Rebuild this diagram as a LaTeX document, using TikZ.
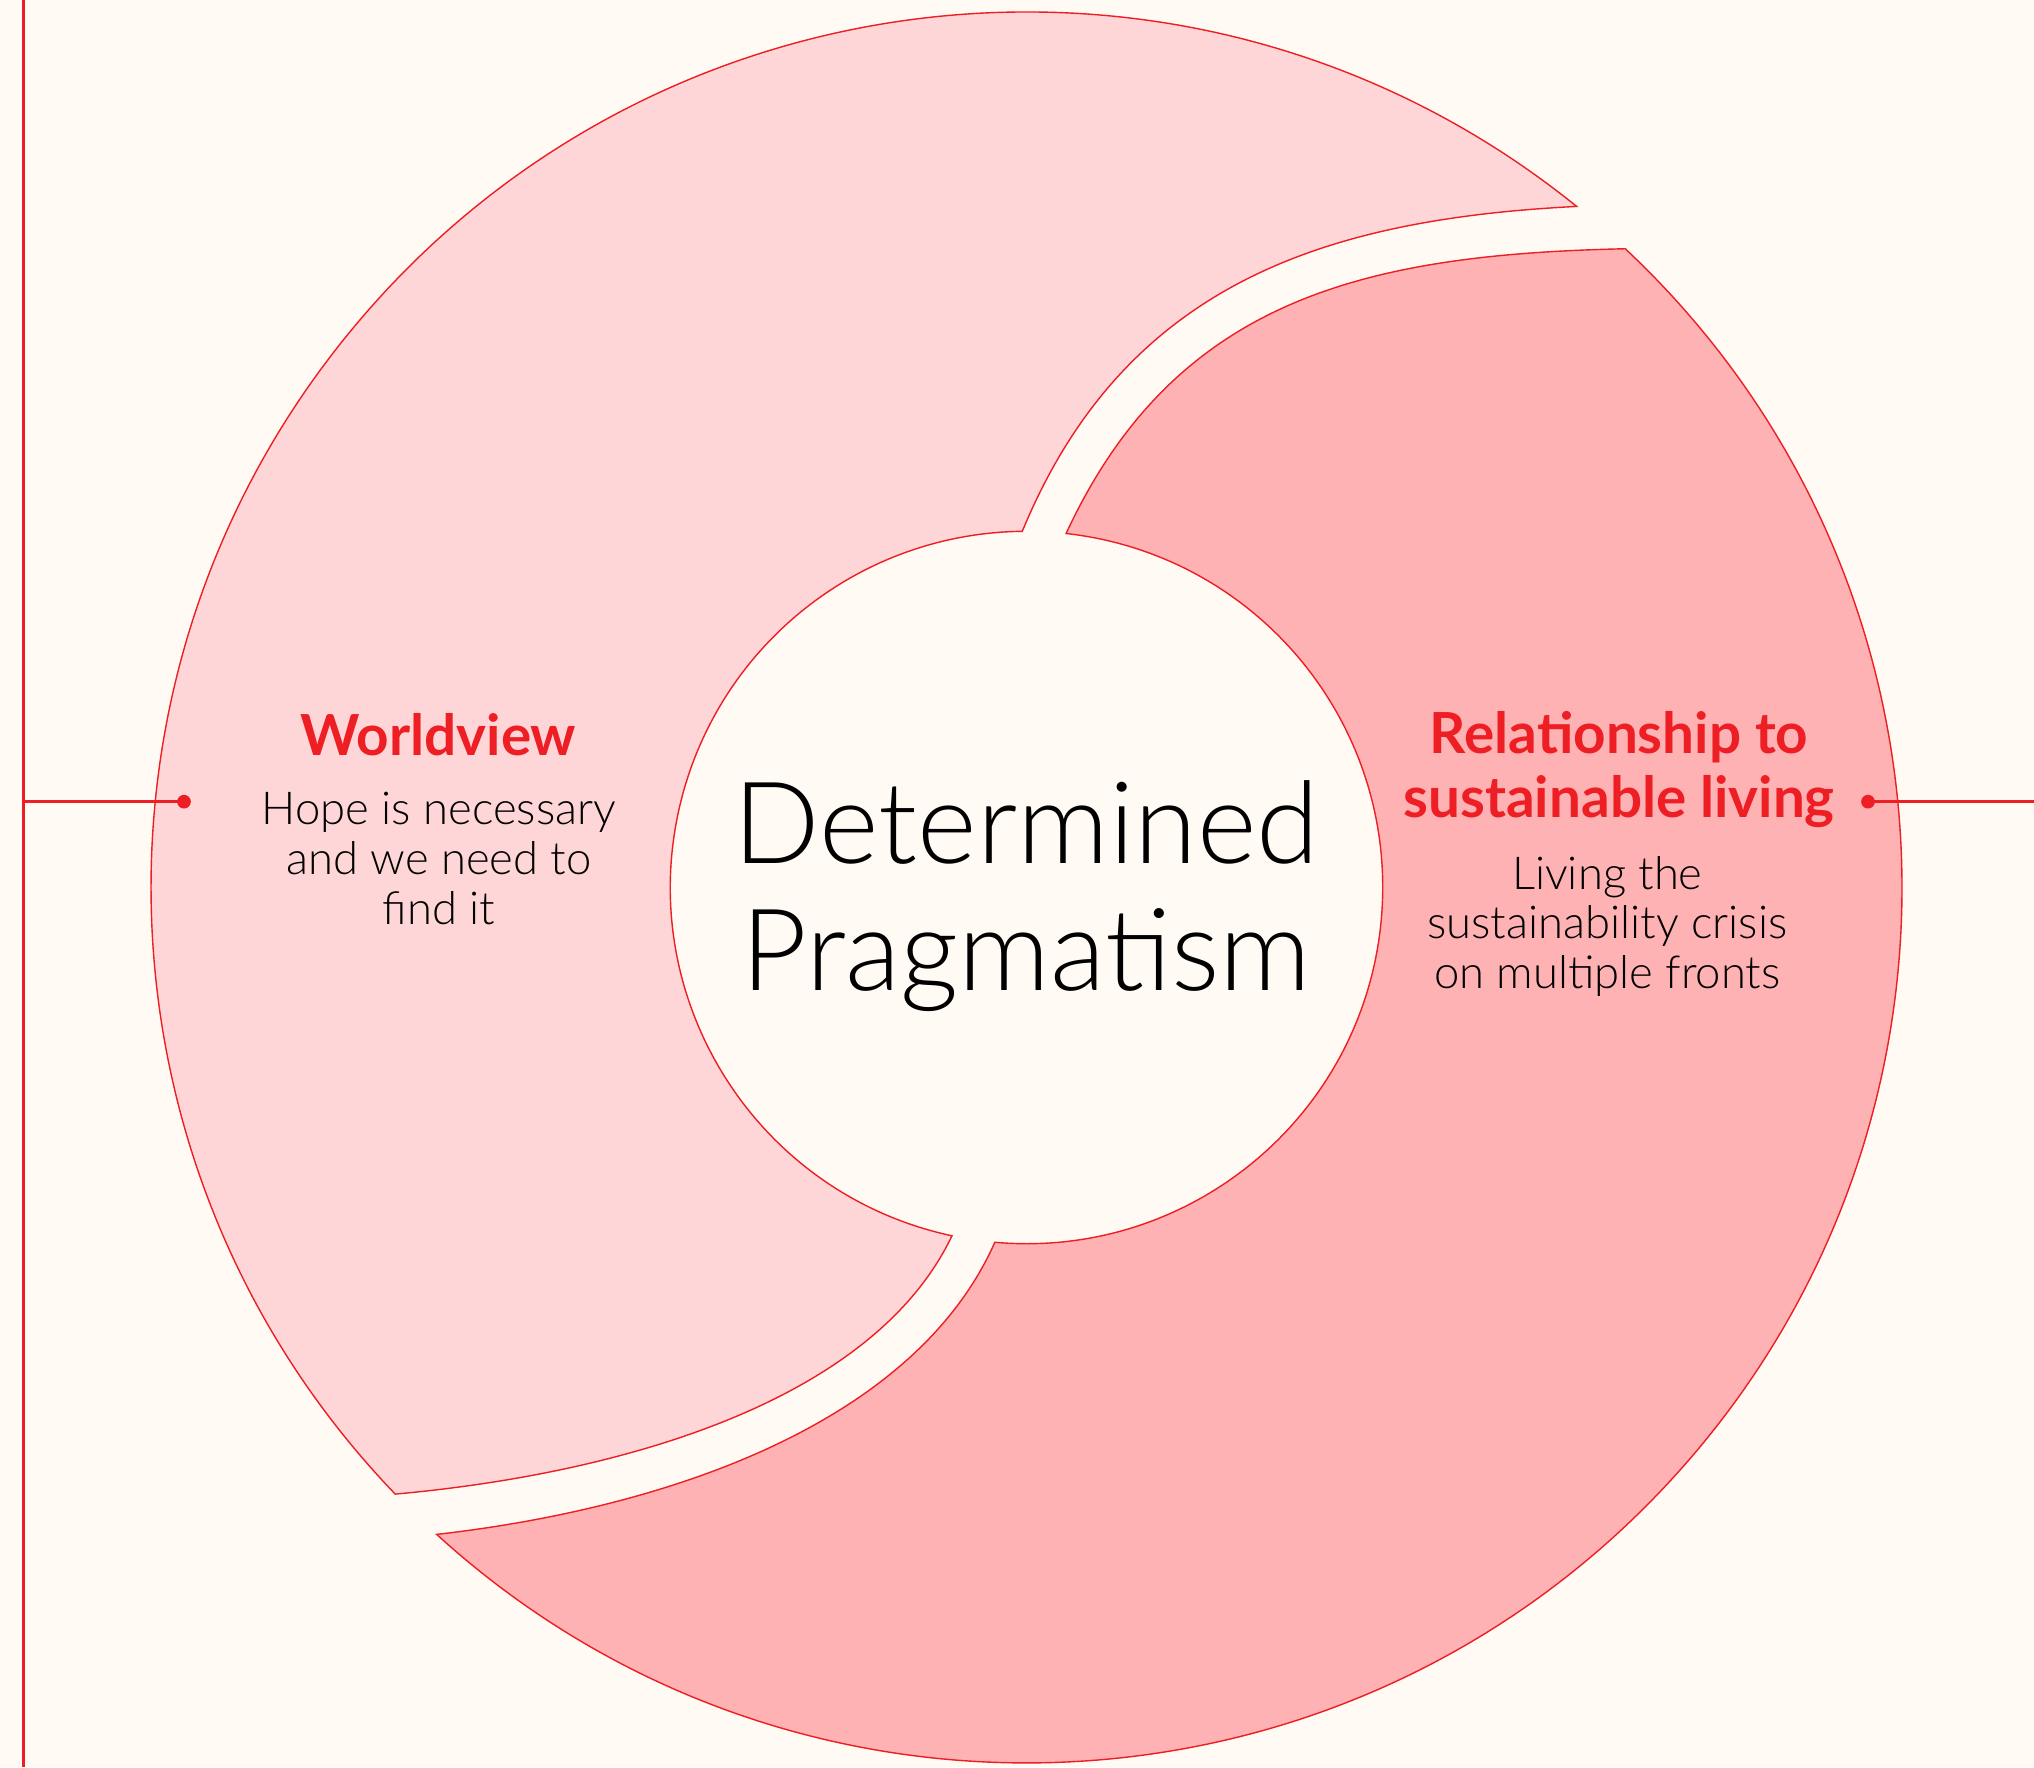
\documentclass[tikz,border=0pt]{standalone}
\usepackage{fontspec}
\usetikzlibrary{calc}
\setmainfont{Lato}
\newfontfamily\lightfont{Lato Light}
\definecolor{bgcol}{RGB}{255,250,244}
\definecolor{lightpink}{RGB}{255,214,215}
\definecolor{darkpink}{RGB}{255,178,180}
\definecolor{redline}{RGB}{237,30,36}
\tikzset{
  shapeedge/.style={draw=redline, line width=0.4pt},
  connector/.style={draw=redline, line width=0.9pt},
  dotmark/.style={circle, fill=redline, inner sep=0pt, minimum size=3.9pt},
  titletext/.style={text=redline, font=\fontsize{16.1}{18.2}\selectfont\bfseries, align=center, inner sep=0pt},
  bodytext/.style={text=black, font=\lightfont\fontsize{12.9}{14.2}\selectfont, align=center, inner sep=0pt},
  centertext/.style={text=black, font=\lightfont\fontsize{32.4}{36.1}\selectfont, align=center, inner sep=0pt}
}
\begin{document}
\begin{tikzpicture}[x=0.01cm,y=0.01cm]
  \fill[bgcol] (0,0) rectangle (2034,1767);
  \useasboundingbox (0,0) rectangle (2034,1767);
  \coordinate (C) at (1026.5,879.5);
  % light shape (Worldview)
  \path[fill=lightpink, shapeedge]
    ($(C)+(51.07:8.75cm)$) arc[start angle=51.07, end angle=223.86, radius=8.75cm]
    .. controls (620.4,293.2) and (872.5,364.8) .. ($(C)+(257.92:3.56cm)$)
    arc[start angle=257.92, end angle=90.68, radius=3.56cm]
    .. controls (1124.9,1484.4) and (1326.6,1547.8) .. cycle;
  % dark shape (Relationship)
  \path[fill=darkpink, shapeedge]
    ($(C)+(46.85:8.75cm)$) arc[start angle=46.85, end angle=-132.36, radius=8.75cm]
    .. controls (665.3,258.5) and (913.9,342.5) .. ($(C)+(-95.1:3.56cm)$)
    arc[start angle=-95.1, end angle=83.62, radius=3.56cm]
    .. controls (1175.2,1468.5) and (1365,1512.5) .. cycle;
  % connectors
  \coordinate (ltop) at (23.3,1767);
  \coordinate (lbot) at (23.3,0);
  \coordinate (ljoin) at (23.3,965.3);
  \coordinate (rend) at (2034,965.3);
  \node[dotmark] (ldot) at (184,965.3) {};
  \node[dotmark] (rdot) at (1868,965.3) {};
  \draw[connector] (ltop) -- (lbot);
  \draw[connector] (ljoin) -- (ldot.center);
  \draw[connector] (rdot.center) -- (rend);
  % texts
  \node[titletext] (wvtitle) at (438.5,1032) {Worldview};
  \node[bodytext] (wvbody) at (439,908.5) {Hope is necessary\\and we need to\\find it};
  \node[centertext] (center) at (1026.5,871) {Determined\\Pragmatism};
  \node[titletext] (rltitle) at (1619,997) {Relationship to\\sustainable living};
  \node[bodytext] (rlbody) at (1607.3,840.5) {Living the\\sustainability crisis\\on multiple fronts};
\end{tikzpicture}
\end{document}
